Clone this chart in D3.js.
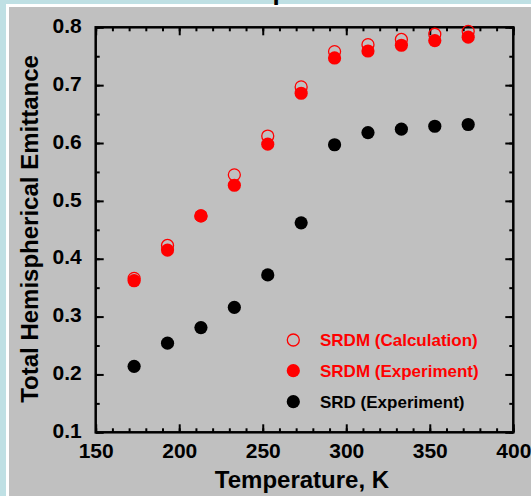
<!DOCTYPE html>
<html>
<head>
<meta charset="utf-8">
<script src="https://cdn.jsdelivr.net/npm/d3@7"></script>
<style>
  html, body { margin: 0; padding: 0; background: #bfe0e4; }
  svg { display: block; }
  text { font-family: "Liberation Sans", Arial, sans-serif; font-weight: bold; }
</style>
</head>
<body>
<script>
// Temperatures (K) and total hemispherical emittance for each sample set
const temperatures = [173, 193, 213, 233, 253, 273, 293, 313, 333, 353, 373];
const srdmCalculation = [0.366, 0.423, 0.474, 0.545, 0.612, 0.697, 0.758, 0.770, 0.779, 0.788, 0.793];
const srdmExperiment = [0.362, 0.415, 0.474, 0.527, 0.598, 0.686, 0.747, 0.759, 0.769, 0.777, 0.783];
const srdExperiment = [0.214, 0.254, 0.281, 0.316, 0.372, 0.462, 0.597, 0.618, 0.624, 0.629, 0.632];

const xMajorTicks = [150, 200, 250, 300, 350, 400];
const xMinorTicks = d3.range(150, 401, 10);
const yMajorTicks = [0.1, 0.2, 0.3, 0.4, 0.5, 0.6, 0.7, 0.8];
const yMinorTicks = d3.range(0.1, 0.8001, 0.05).map(v => +v.toFixed(2));

const legendLabels = ["SRDM (Calculation)", "SRDM (Experiment)", "SRD (Experiment)"];

const W = 531, H = 496;
const svg = d3.select("body").append("svg").attr("width", W).attr("height", H);

// Background: light blue outer band, white rule, grey panel
svg.append("rect").attr("width", W).attr("height", H).attr("fill", "#bfe0e4");
svg.append("rect").attr("x", 6).attr("y", 4).attr("width", W - 6).attr("height", H - 4).attr("fill", "#ffffff");
svg.append("rect").attr("x", 9).attr("y", 7).attr("width", W - 9).attr("height", H - 7).attr("fill", "#c0c0c0");

// Title, sitting almost entirely above the top edge
svg.append("text")
  .attr("x", 127).attr("y", 0.4)
  .attr("font-size", 26).attr("fill", "#000")
  .text("Total Hemispherical Emittance");

const plot = { left: 95.7, right: 513.3, top: 27.3, bottom: 432.3 };
const x = d3.scaleLinear().domain([150, 400]).range([plot.left, plot.right]);
const y = d3.scaleLinear().domain([0.1, 0.8]).range([plot.bottom, plot.top]);

function styleAxis(g, width) {
  g.select(".domain").remove();
  g.selectAll(".tick line").attr("stroke", "#000").attr("stroke-width", width);
  g.selectAll(".tick text").attr("fill", "#000").attr("font-family", "Liberation Sans, Arial, sans-serif").attr("font-weight", "bold");
}

// Minor ticks on all four sides
svg.append("g").attr("transform", `translate(0,${plot.bottom})`)
  .call(d3.axisBottom(x).tickValues(xMinorTicks).tickSize(-4).tickFormat(""))
  .call(g => styleAxis(g, 2));
svg.append("g").attr("transform", `translate(0,${plot.top})`)
  .call(d3.axisTop(x).tickValues(xMinorTicks).tickSize(-4).tickFormat(""))
  .call(g => styleAxis(g, 2));
svg.append("g").attr("transform", `translate(${plot.left},0)`)
  .call(d3.axisLeft(y).tickValues(yMinorTicks).tickSize(-4).tickFormat(""))
  .call(g => styleAxis(g, 2));
svg.append("g").attr("transform", `translate(${plot.right},0)`)
  .call(d3.axisRight(y).tickValues(yMinorTicks).tickSize(-4).tickFormat(""))
  .call(g => styleAxis(g, 2));

// Major ticks, labelled on bottom and left
svg.append("g").attr("transform", `translate(0,${plot.bottom})`)
  .call(d3.axisBottom(x).tickValues(xMajorTicks).tickSize(-8).tickPadding(11).tickFormat(d3.format("d")))
  .call(g => { styleAxis(g, 2); g.selectAll(".tick text").attr("font-size", 21); });
svg.append("g").attr("transform", `translate(0,${plot.top})`)
  .call(d3.axisTop(x).tickValues(xMajorTicks).tickSize(-8).tickFormat(""))
  .call(g => styleAxis(g, 2));
svg.append("g").attr("transform", `translate(${plot.left},0)`)
  .call(d3.axisLeft(y).tickValues(yMajorTicks).tickSize(-8).tickPadding(14).tickFormat(d3.format(".1f")))
  .call(g => { styleAxis(g, 2); g.selectAll(".tick text").attr("font-size", 21).attr("dy", "0.25em"); });
svg.append("g").attr("transform", `translate(${plot.right},0)`)
  .call(d3.axisRight(y).tickValues(yMajorTicks).tickSize(-8).tickFormat(""))
  .call(g => styleAxis(g, 2));

// Plot frame
svg.append("rect")
  .attr("x", plot.left).attr("y", plot.top)
  .attr("width", plot.right - plot.left).attr("height", plot.bottom - plot.top)
  .attr("fill", "none").attr("stroke", "#000").attr("stroke-width", 2.5);

// Axis titles
svg.append("text")
  .attr("x", 302).attr("y", 488)
  .attr("text-anchor", "middle").attr("font-size", 24)
  .text("Temperature, K");
svg.append("text")
  .attr("transform", "translate(37.5,229) rotate(-90)")
  .attr("text-anchor", "middle").attr("font-size", 24)
  .text("Total Hemispherical Emittance");

// Data markers
const R = 6.6;
svg.append("g").selectAll("circle")
  .data(temperatures.map((t, i) => [t, srdExperiment[i]]))
  .join("circle")
  .attr("cx", d => x(d[0])).attr("cy", d => y(d[1])).attr("r", R)
  .attr("fill", "#000");
svg.append("g").selectAll("circle")
  .data(temperatures.map((t, i) => [t, srdmExperiment[i]]))
  .join("circle")
  .attr("cx", d => x(d[0])).attr("cy", d => y(d[1])).attr("r", R)
  .attr("fill", "#ff0000");
svg.append("g").selectAll("circle")
  .data(temperatures.map((t, i) => [t, srdmCalculation[i]]))
  .join("circle")
  .attr("cx", d => x(d[0])).attr("cy", d => y(d[1])).attr("r", R - 0.6)
  .attr("fill", "none").attr("stroke", "#ff0000").attr("stroke-width", 1.3);

// Legend
const legendRows = [
  { label: legendLabels[0], color: "#ff0000", open: true, yPos: 340 },
  { label: legendLabels[1], color: "#ff0000", open: false, yPos: 370.7 },
  { label: legendLabels[2], color: "#000000", open: false, yPos: 401.7 }
];
const lg = svg.append("g");
legendRows.forEach(row => {
  lg.append("circle")
    .attr("cx", 293.3).attr("cy", row.yPos).attr("r", row.open ? R - 0.6 : R)
    .attr("fill", row.open ? "none" : row.color)
    .attr("stroke", row.open ? row.color : "none")
    .attr("stroke-width", 1.3);
  lg.append("text")
    .attr("x", 320).attr("y", row.yPos).attr("dy", "0.36em")
    .attr("font-size", 17).attr("fill", row.color)
    .text(row.label);
});
</script>
</body>
</html>
